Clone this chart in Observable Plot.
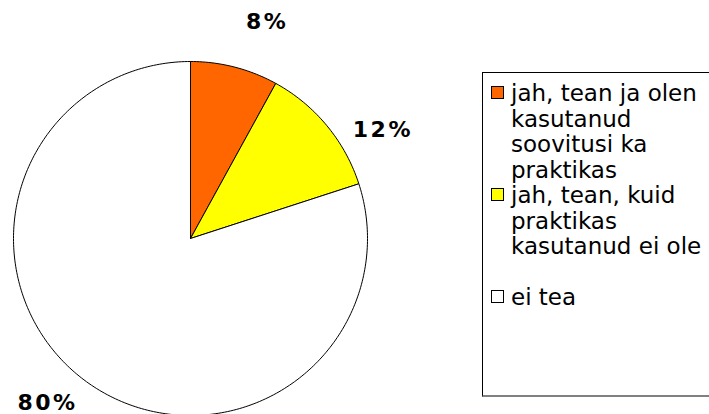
<!DOCTYPE html>
<html>
<head>
<meta charset="utf-8">
<script src="https://cdn.jsdelivr.net/npm/d3@7"></script>
<script src="https://cdn.jsdelivr.net/npm/@observablehq/plot@0.6"></script>
<style>
  html, body { margin: 0; padding: 0; background: #fff; overflow: hidden; }
  #wrap { position: relative; width: 709px; height: 414px; font-family: "DejaVu Sans", Verdana, sans-serif; }
  #legend {
    position: absolute; left: 482px; top: 72px; width: 260px; height: 325px;
    border: 1px solid #000; border-bottom: 2px solid #808080; background: #fff;
    box-sizing: border-box; padding-top: 8px;
    font-size: 23px; line-height: 25.5px; color: #000;
  }
  .item { display: flex; align-items: flex-start; white-space: nowrap; }
  .sw { width: 11px; height: 11px; border: 1px solid #000; margin-left: 8px; margin-right: 7px; margin-top: 5px; flex: none; }
</style>
</head>
<body>
<div id="wrap"></div>
<script>
const categories = ["jah, tean ja olen kasutanud soovitusi ka praktikas", "jah, tean, kuid praktikas kasutanud ei ole", "ei tea"];
const legendLines = [["jah, tean ja olen", "kasutanud", "soovitusi ka", "praktikas"], ["jah, tean, kuid", "praktikas", "kasutanud ei ole"], ["ei tea"]];
const values = [8, 12, 80];
const labels = ["8%", "12%", "80%"];
const colors = ["#FF6600", "#FFFF00", "#FFFFFF"];

const arcs = d3.pie().sort(null).value(d => d)(values);
const pts = [];
arcs.forEach((a, i) => {
  pts.push({k: i, x: 0, y: 0, c: colors[i]});
  const n = Math.max(2, Math.ceil((a.endAngle - a.startAngle) / (Math.PI * 2) * 360));
  for (let j = 0; j <= n; j++) {
    const t = a.startAngle + (a.endAngle - a.startAngle) * j / n;
    pts.push({k: i, x: Math.sin(t), y: Math.cos(t), c: colors[i]});
  }
  pts.push({k: i, x: 0, y: 0, c: colors[i]});
});
const lab = arcs.map((a, i) => {
  const m = (a.startAngle + a.endAngle) / 2;
  return {x: 1.22 * Math.sin(m), y: 1.22 * Math.cos(m), t: labels[i]};
});
const offs = [[23, -7], [26, 29], [-16, -10]];
const textMarks = lab.map((d, i) => Plot.text([d], {
  x: "x", y: "y", text: "t", dx: offs[i][0], dy: offs[i][1],
  fontSize: 22, fontWeight: "bold", fill: "#000", textAnchor: "middle", lineAnchor: "middle",
  fontFamily: "DejaVu Sans, Verdana, sans-serif"
}));

const chart = Plot.plot({
  width: 709, height: 414,
  margin: 0,
  x: {domain: [-1, 1], range: [13, 367], axis: null},
  y: {domain: [-1, 1], range: [415, 61], axis: null},
  color: {type: "identity"},
  style: {background: "transparent", overflow: "visible"},
  marks: [
    Plot.line(pts, {x: "x", y: "y", z: "k", fill: "c", stroke: "#000", strokeWidth: 1, strokeLinejoin: "miter"}),
    ...textMarks
  ]
});
chart.querySelectorAll("text").forEach(t => t.setAttribute("letter-spacing", "2.5"));
const wrap = document.getElementById("wrap");
wrap.appendChild(chart);

const lg = document.createElement("div");
lg.id = "legend";
categories.forEach((c, i) => {
  const it = document.createElement("div");
  it.className = "item";
  if (i === 2) it.style.marginTop = "25.5px";
  const sw = document.createElement("div");
  sw.className = "sw";
  sw.style.background = colors[i];
  const tx = document.createElement("div");
  tx.innerHTML = legendLines[i].join("<br>");
  tx.title = c;
  it.appendChild(sw); it.appendChild(tx);
  lg.appendChild(it);
});
wrap.appendChild(lg);
</script>
</body>
</html>
